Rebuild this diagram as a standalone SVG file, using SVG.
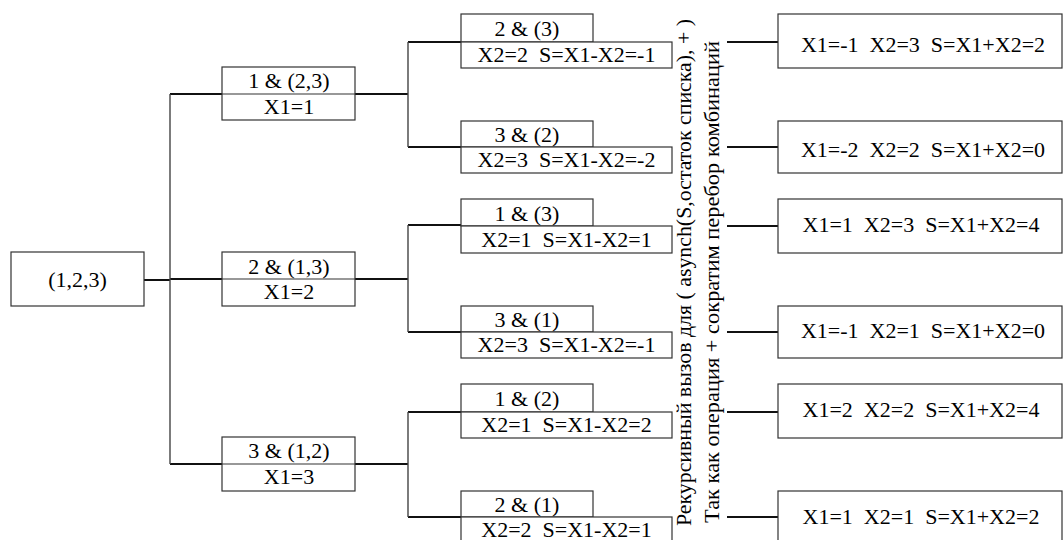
<svg xmlns="http://www.w3.org/2000/svg" width="1063" height="540" viewBox="0 0 1063 540" font-family="Liberation Serif, Times New Roman, serif">
<style>
rect.b{fill:#fff;stroke:#333;stroke-width:1.2}
.d{stroke:#333;stroke-width:1.2}
.t{font-size:22px;fill:#000;font-family:"Liberation Serif","Times New Roman",serif}
.m{text-anchor:middle}
.h{stroke:#111;stroke-width:2;fill:none}
.v{stroke:#444;stroke-width:1.4;fill:none}
</style>
<rect width="1063" height="540" style="fill:#fff;stroke:none"/>
<g id="connectors">
<path class="h" d="M144 280H170M170 94H222M170 279H222M170 464H222"/>
<path class="v" d="M170 94V464"/>
<path class="h" d="M355 94H408M408 42H461M408 147H461"/>
<path class="v" d="M408 42V147"/>
<path class="h" d="M355 279H408M408 225H461M408 332H461"/>
<path class="v" d="M408 225V332"/>
<path class="h" d="M355 464H408M408 412H461M408 517H461"/>
<path class="v" d="M408 412V517"/>
<path class="h" d="M727 42H778M727 147H778M727 226H778M727 332H778M727 412H778M727 517H778"/>
</g>
<g id="root"><rect class="b" x="11" y="252" width="133" height="54"/><text class="t m" font-family="Liberation Serif" x="77.5" y="287">(1,2,3)</text></g>
<g id="n1"><rect class="b" x="222" y="67" width="133" height="53"/><line class="d" x1="222" y1="94" x2="355" y2="94"/><text class="t m" font-family="Liberation Serif" x="289" y="88">1 &amp; (2,3)</text><text class="t m" font-family="Liberation Serif" x="289" y="114">X1=1</text></g>
<g id="n2"><rect class="b" x="222" y="252" width="133" height="54"/><line class="d" x1="222" y1="279" x2="355" y2="279"/><text class="t m" font-family="Liberation Serif" x="289" y="274">2 &amp; (1,3)</text><text class="t m" font-family="Liberation Serif" x="289" y="299">X1=2</text></g>
<g id="n3"><rect class="b" x="222" y="437" width="133" height="54"/><line class="d" x1="222" y1="464" x2="355" y2="464"/><text class="t m" font-family="Liberation Serif" x="289" y="458">3 &amp; (1,2)</text><text class="t m" font-family="Liberation Serif" x="289" y="484">X1=3</text></g>
<g id="n11"><rect class="b" x="461" y="14" width="132" height="28"/><rect class="b" x="461" y="42" width="211" height="26"/><text class="t m" font-family="Liberation Serif" x="527" y="36">2 &amp; (3)</text><text class="t m" font-family="Liberation Serif" x="566.5" y="62">X2=2&#160; S=X1-X2=-1</text></g>
<g id="n12"><rect class="b" x="461" y="121" width="132" height="26"/><rect class="b" x="461" y="147" width="211" height="26"/><text class="t m" font-family="Liberation Serif" x="527" y="142">3 &amp; (2)</text><text class="t m" font-family="Liberation Serif" x="566.5" y="167">X2=3&#160; S=X1-X2=-2</text></g>
<g id="n21"><rect class="b" x="461" y="199" width="132" height="27"/><rect class="b" x="461" y="226" width="211" height="27"/><text class="t m" font-family="Liberation Serif" x="527" y="221">1 &amp; (3)</text><text class="t m" font-family="Liberation Serif" x="566.5" y="247">X2=1&#160; S=X1-X2=1</text></g>
<g id="n22"><rect class="b" x="461" y="306" width="132" height="26"/><rect class="b" x="461" y="332" width="211" height="26"/><text class="t m" font-family="Liberation Serif" x="527" y="327">3 &amp; (1)</text><text class="t m" font-family="Liberation Serif" x="566.5" y="352">X2=3&#160; S=X1-X2=-1</text></g>
<g id="n31"><rect class="b" x="461" y="384" width="132" height="28"/><rect class="b" x="461" y="412" width="211" height="26"/><text class="t m" font-family="Liberation Serif" x="527" y="406">1 &amp; (2)</text><text class="t m" font-family="Liberation Serif" x="566.5" y="432">X2=1&#160; S=X1-X2=2</text></g>
<g id="n32"><rect class="b" x="461" y="491" width="132" height="26"/><rect class="b" x="461" y="517" width="211" height="27"/><text class="t m" font-family="Liberation Serif" x="527" y="512">2 &amp; (1)</text><text class="t m" font-family="Liberation Serif" x="566.5" y="537">X2=2&#160; S=X1-X2=1</text></g>
<g id="note">
<text class="t" font-family="Liberation Serif" transform="translate(691,526) rotate(-90)" textLength="507" lengthAdjust="spacingAndGlyphs">Рекурсивный вызов для ( asynch(S,остаток списка), + )</text>
<text class="t" font-family="Liberation Serif" transform="translate(719,523) rotate(-90)" textLength="482" lengthAdjust="spacingAndGlyphs">Так как операция + сократим перебор комбинаций</text>
</g>
<g id="r1"><rect class="b" x="778" y="14" width="284" height="54"/><text class="t m" font-family="Liberation Serif" x="923" y="52">X1=-1&#160; X2=3&#160; S=X1+X2=2</text></g>
<g id="r2"><rect class="b" x="778" y="121" width="284" height="52"/><text class="t m" font-family="Liberation Serif" x="923" y="157">X1=-2&#160; X2=2&#160; S=X1+X2=0</text></g>
<g id="r3"><rect class="b" x="778" y="199" width="284" height="54"/><text class="t m" font-family="Liberation Serif" x="921" y="232">X1=1&#160; X2=3&#160; S=X1+X2=4</text></g>
<g id="r4"><rect class="b" x="778" y="306" width="284" height="52"/><text class="t m" font-family="Liberation Serif" x="923" y="338">X1=-1&#160; X2=1&#160; S=X1+X2=0</text></g>
<g id="r5"><rect class="b" x="778" y="384" width="284" height="54"/><text class="t m" font-family="Liberation Serif" x="921" y="417">X1=2&#160; X2=2&#160; S=X1+X2=4</text></g>
<g id="r6"><rect class="b" x="778" y="491" width="284" height="54"/><text class="t m" font-family="Liberation Serif" x="921" y="524">X1=1&#160; X2=1&#160; S=X1+X2=2</text></g>
</svg>
